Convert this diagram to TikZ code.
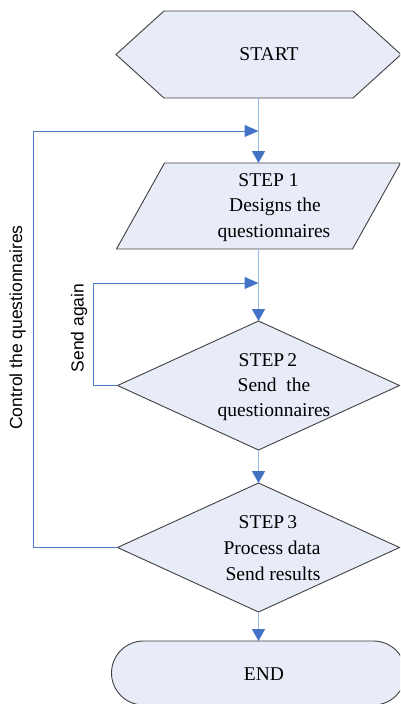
\documentclass[tikz,border=0pt]{standalone}
\usepackage{fontspec}
\setmainfont{Liberation Serif}
\newfontfamily\labelsans{Liberation Sans}
\usetikzlibrary{arrows.meta,calc,shapes.geometric,shapes.misc}
\definecolor{boxfill}{HTML}{E8ECF8}
\definecolor{boxline}{HTML}{404040}
\definecolor{flowline}{HTML}{9BB8E0}
\definecolor{loopline}{HTML}{4A7CC6}
\definecolor{tipblue}{HTML}{4472C4}

\begin{document}
\begin{tikzpicture}[x=1pt,y=-1pt,
  shapebox/.style={draw=boxline, fill=boxfill, line width=0.9pt, line join=miter},
  framebox/.style={inner sep=0pt, outer sep=0pt, draw=none},
  decision/.style={shape=diamond, shapebox, inner sep=0pt, outer sep=0pt,
                   minimum width=282pt, minimum height=129pt},
  terminal/.style={shape=rounded rectangle, shapebox, inner sep=0pt, outer sep=0pt,
                   minimum width=294pt, minimum height=64pt},
  flow/.style={draw=flowline, line width=1.4pt,
               -{Triangle[length=12pt,width=13pt,color=tipblue]}},
  loopback/.style={draw=loopline, line width=1pt,
               -{Triangle[length=14pt,width=12pt,color=tipblue]}},
  txt/.style={font=\fontsize{19.5}{24}\selectfont, anchor=base, inner sep=0pt},
  side/.style={font=\labelsans\fontsize{17.5}{20}\selectfont, anchor=base,
               inner sep=0pt, rotate=90}
]
\useasboundingbox (0,0) rectangle (400,704);
\clip (0,0) rectangle (400,704);

% START: hexagon built around an invisible frame node
\node[framebox, minimum width=189pt, minimum height=87pt] (s0) at (258.5,54.5) {};
\draw[shapebox] (s0.north west) -- (s0.north east) -- ($(s0.east)+(48,0)$)
  -- (s0.south east) -- (s0.south west) -- ($(s0.west)+(-48,0)$) -- cycle;
\node[txt] (s0t) at (269,60) {START};

% STEP 1: parallelogram
\node[framebox, minimum width=236pt, minimum height=86pt] (s1) at (258.5,206) {};
\draw[shapebox] ($(s1.north west)+(24,0)$) -- ($(s1.north east)+(24,0)$)
  -- ($(s1.south east)+(-24,0)$) -- ($(s1.south west)+(-24,0)$) -- cycle;
\node[txt] (s1a) at (268.5,186) {STEP 1};
\node[txt] (s1b) at (275,211.5) {Designs the};
\node[txt] (s1c) at (274,237) {questionnaires};

% STEP 2: decision
\node[decision] (s2) at (258.5,385.5) {};
\node[txt] (s2a) at (268,366) {STEP\,2};
\node[txt] (s2b) at (274,391) {Send~~the};
\node[txt] (s2c) at (274,416) {questionnaires};

% STEP 3: decision
\node[decision] (s3) at (258.5,547.5) {};
\node[txt] (s3a) at (268,528) {STEP\,3};
\node[txt] (s3b) at (272,554) {Process data};
\node[txt] (s3c) at (273,580) {Send results};

% END: terminal
\node[terminal] (s4) at (258.5,673) {};
\node[txt] (s4t) at (264,680) {END};

% junctions where the loops rejoin the main line
\coordinate (j1) at (258.5,131);
\coordinate (j2) at (258.5,283);

% main flow
\draw[flow] (s0.south) -- (s1.north);
\draw[flow] (s1.south) -- (s2.north);
\draw[flow] (s2.south) -- (s3.north);
\draw[flow] (s3.south) -- (s4.north);

% feedback loops
\draw[loopback] (s2.west) -- ++(-24,0) |- (j2);
\draw[loopback] (s3.west) -- ++(-84,0) |- (j1);

% loop labels
\node[side] (la) at (83.5,328) {Send again};
\node[side] (lc) at (22,327.5) {Control the questionnaires};
\end{tikzpicture}
\end{document}
